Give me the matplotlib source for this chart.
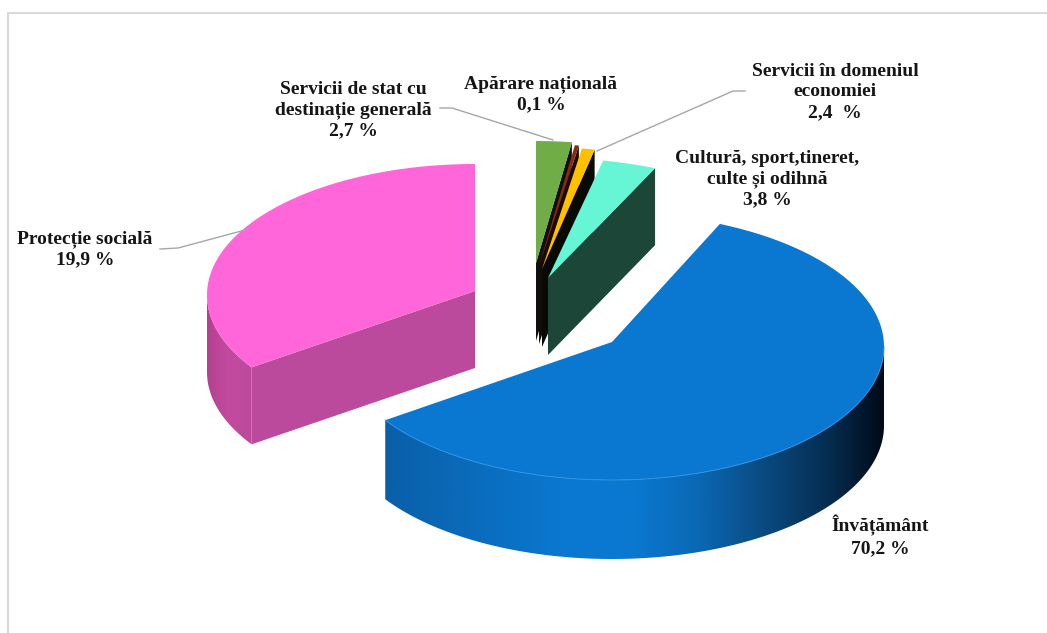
import numpy as np
import matplotlib
matplotlib.use("Agg")
import matplotlib.pyplot as plt
from matplotlib.colors import LinearSegmentedColormap
from matplotlib.patches import Polygon, Rectangle

plt.rcParams["font.family"] = ["Liberation Serif", "DejaVu Serif"]

# labels printed on the chart
labels = [
    "Servicii de stat cu\ndestinație generală\n2,7 %",
    "Apărare națională\n0,1 %",
    "Servicii în domeniul\neconomiei\n2,4  %",
    "Cultură, sport,tineret,\nculte și odihnă\n3,8 %",
    "Învățământ\n70,2 %",
    "Protecție socială\n19,9 %",
]
# slice sizes as drawn in the picture (they differ from the printed percents)
drawn_share = [2.22, 0.25, 0.80, 3.22, 59.2, 34.31]
top_colors = ["#70ad47", "#8a2a10", "#ffc000", "#66f5d5", "#0a78d0", "#ff66d9"]
cut_colors = ["#101010", "#1a0a05", "#0a0a05", "#1c4638", "#0a5aa0", "#bb4a9c"]

# layout, pixels
centers = [(536, 263), (539, 266), (542, 269), (548, 278), (612, 342), (475, 291)]
radius = [258, 258, 258, 270, 272, 268]
ry = [126, 126, 126, 124, 133.5, 131]
shift = [4, 4, 4, 4, 4.5, 4]
depth = [78, 78, 78, 77, 79, 77]
label_xy = [(353, 110), (541, 94), (835, 92), (767, 179), (880, 536), (85, 249)]
leaders = [
    [(440, 108), (452, 108), (553, 140)],
    [(745, 91), (733, 91), (597, 151)],
    [(160, 249), (178, 248), (245, 230)],
]


def rim(i, deg):
    th = np.radians(np.asarray(deg, dtype=float))
    cx, cy = centers[i]
    return cx + radius[i] * np.sin(th), cy + shift[i] - ry[i] * np.cos(th)


def top_face(i, a, b):
    x, y = rim(i, np.linspace(a, b, 200))
    return np.column_stack([np.r_[centers[i][0], x], np.r_[centers[i][1], y]])


def cut_face(i, deg):
    x, y = rim(i, deg)
    cx, cy = centers[i]
    d = depth[i]
    return [(cx, cy), (x, y), (x, y + d), (cx, cy + d)]


def wall(ax, i, a, b, stops):
    x, y = rim(i, np.linspace(a, b, 200))
    d = depth[i]
    pts = np.column_stack([np.r_[x, x[::-1]], np.r_[y, y[::-1] + d]])
    clip = Polygon(pts, closed=True, transform=ax.transData, fc="none", ec="none")
    ax.add_patch(clip)
    cmap = LinearSegmentedColormap.from_list("w", stops)
    grad = np.linspace(0, 1, 256).reshape(1, -1)
    im = ax.imshow(grad, cmap=cmap, aspect="auto", zorder=clip.get_zorder(),
                   extent=[x.min(), x.max(), y.max() + d, y.min()])
    im.set_clip_path(clip)


fig = plt.figure(figsize=(10.47, 6.33), dpi=100)
ax = fig.add_axes([0, 0, 1, 1])

ax.add_patch(Rectangle((7.5, 12.5), 1100, 700, fc="white", ec="#d9d9d9", lw=1.5))

edges = np.cumsum([0] + drawn_share) * 3.6
order = [5, 4, 0, 1, 2, 3]
for i in order:
    a, b = edges[i], edges[i + 1]
    if i == 5:
        wall(ax, i, a, 270, [(0, "#b5408f"), (0.5, "#c24ba0"), (1, "#bb4a9c")])
        ax.add_patch(Polygon(cut_face(i, a), closed=True, fc=cut_colors[i], ec="none"))
    elif i == 4:
        wall(ax, i, 90, b, [(0, "#0a5fa8"), (0.35, "#0a78d0"), (0.5, "#0a78d0"),
                            (0.63, "#0a68b4"), (0.76, "#0a4a80"), (0.9, "#052a4c"),
                            (1, "#000a18")])
    else:
        ax.add_patch(Polygon(cut_face(i, b), closed=True, fc=cut_colors[i], ec="none"))
    ax.add_patch(Polygon(top_face(i, a, b), closed=True, fc=top_colors[i], ec="none"))

# thin light edge along the front of the big slice
fx, fy = rim(4, np.linspace(90, edges[5], 200))
ax.plot(fx, fy, color="#2e92e2", lw=0.7)

for pts in leaders:
    xs, ys = zip(*pts)
    ax.plot(xs, ys, color="#a6a6a6", lw=1)

for txt, (x, y) in zip(labels, label_xy):
    ax.text(x, y, txt, ha="center", va="center", fontsize=14, fontweight="bold",
            color="#151515", linespacing=1.27)

ax.set_xlim(0, 1047)
ax.set_ylim(633, 0)
ax.axis("off")
fig.savefig("out.png", dpi=100)
